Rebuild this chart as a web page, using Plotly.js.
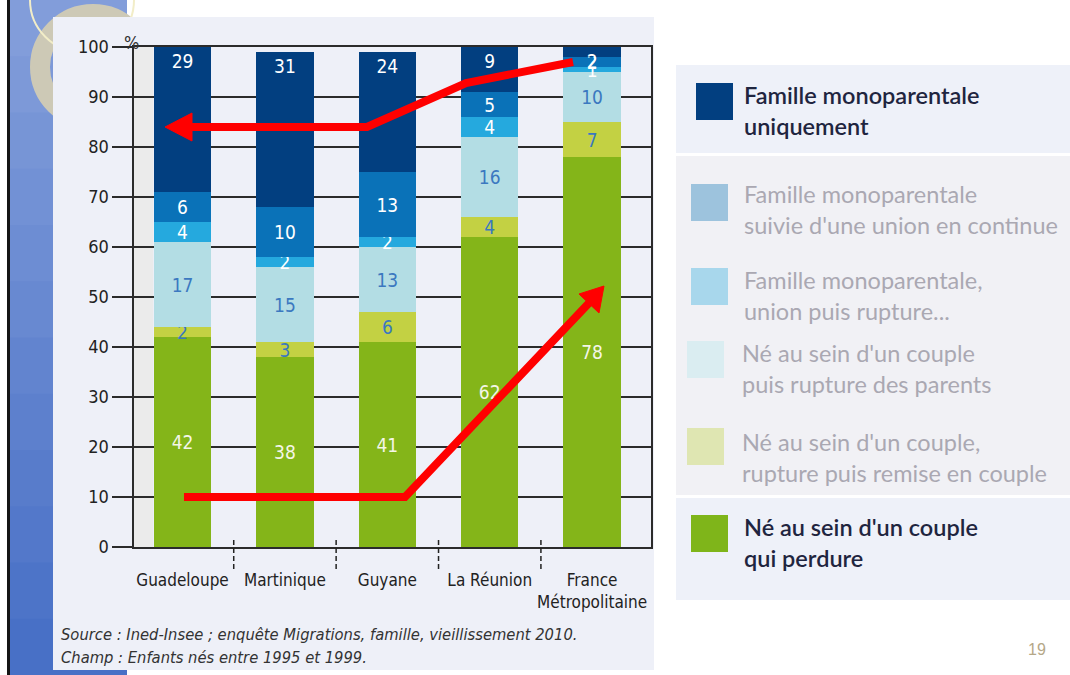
<!DOCTYPE html>
<html>
<head>
<meta charset="utf-8">
<script src="https://cdn.plot.ly/plotly-3.0.1.min.js"></script>
<style>
  html, body { margin: 0; padding: 0; background: #fff; }
  #chart { width: 1070px; height: 675px; }
</style>
</head>
<body>
<div id="chart"></div>
<script>
var regions = ["Guadeloupe", "Martinique", "Guyane", "La Réunion", "France Métropolitaine"];
var tickLabels = ["Guadeloupe", "Martinique", "Guyane", "La Réunion", "France<br>Métropolitaine"];

// parts, from the bottom of each bar to the top (%)
var couplePerdure = [42, 38, 41, 62, 78];
var coupleRemise = [2, 3, 6, 4, 7];
var coupleRupture = [17, 15, 13, 16, 10];
var monoUnionRupture = [4, 2, 2, 4, 1];
var monoUnionContinue = [6, 10, 13, 5, 2];
var monoUniquement = [29, 31, 24, 9, 2];

var yTicks = [0, 10, 20, 30, 40, 50, 60, 70, 80, 90, 100];

var legendLabels = [
  "Famille monoparentale<br>uniquement",
  "Famille monoparentale<br>suivie d'une union en continue",
  "Famille monoparentale,<br>union puis rupture...",
  "Né au sein d'un couple<br>puis rupture des parents",
  "Né au sein d'un couple,<br>rupture puis remise en couple",
  "Né au sein d'un couple<br>qui perdure"
];
var sourceLines = [
  "Source : Ined-Insee ; enquête Migrations, famille, vieillissement 2010.",
  "Champ : Enfants nés entre 1995 et 1999."
];
var pageNumber = "19";

var NARROW = '"Liberation Sans Narrow", "DejaVu Sans Condensed", "Roboto Condensed", sans-serif';
var LEG = 'Lato, "Open Sans", sans-serif';

function segment(values, color, textColor, anchor) {
  return {
    type: 'bar',
    x: regions,
    y: values,
    width: 0.56,
    marker: {color: color, line: {width: 0}},
    text: values.map(String),
    textposition: 'inside',
    insidetextanchor: anchor || 'middle',
    constraintext: 'none',
    textangle: 0,
    textfont: {family: NARROW, size: 19, color: textColor},
    hoverinfo: 'skip',
    showlegend: false
  };
}

var data = [
  segment(couplePerdure, '#84b519', '#f4f6e8'),
  segment(coupleRemise, '#c3d143', '#3b78c0'),
  segment(coupleRupture, '#b3dde4', '#3b78c0'),
  segment(monoUnionRupture, '#25a9de', '#ffffff'),
  segment(monoUnionContinue, '#0a72b8', '#ffffff'),
  segment(monoUniquement, '#023f80', '#ffffff', 'end')
];

// pixel -> paper helpers (plot area is 134..651 x 47..547)
function px(x) { return (x - 134) / 517; }
function py(y) { return (547 - y) / 500; }
function rect(x0, y0, x1, y1, color) {
  return {type: 'rect', xref: 'paper', yref: 'paper', layer: 'below',
    x0: px(x0), x1: px(x1), y0: py(y1), y1: py(y0),
    fillcolor: color, line: {width: 0}};
}
function path(pts, close) {
  return 'M' + pts.map(function (p) { return px(p[0]).toFixed(4) + ',' + py(p[1]).toFixed(4); }).join(' L') + (close ? ' Z' : '');
}

var shapes = [];
// slide background: blue strip with a soft vertical gradient
for (var i = 0; i < 12; i++) {
  var t = i / 11;
  var c = 'rgb(' + Math.round(130 - 58 * t) + ',' + Math.round(157 - 45 * t) + ',' + Math.round(218 - 20 * t) + ')';
  shapes.push(rect(10, i * 56.25, 127, (i + 1) * 56.25 + 1, c));
}
shapes.push(rect(7, 0, 10, 675, '#151515'));
// decorative rings
shapes.push({type: 'circle', xref: 'paper', yref: 'paper', layer: 'below',
  x0: px(40), x1: px(146), y0: py(120), y1: py(14), line: {color: '#cdc9b6', width: 20}});
shapes.push({type: 'circle', xref: 'paper', yref: 'paper', layer: 'below',
  x0: px(30), x1: px(134), y0: py(52), y1: py(-52), line: {color: '#f2edc8', width: 2}});
// chart panel
shapes.push(rect(53, 17, 654, 670, '#eef0f8'));
// legend panel sections
shapes.push(rect(676, 65, 1070, 153, '#eef1f9'));
shapes.push(rect(676, 156, 1070, 495, '#f1f1f5'));
shapes.push(rect(676, 498, 1070, 600, '#eef1f9'));
// legend swatches
var swatches = [
  [696, 83, '#023f80'], [691, 184, '#9dc3dd'], [691, 268, '#a8d7ec'],
  [687, 341, '#daedf1'], [687, 428, '#dfe6b2'], [691, 515, '#7fb51a']
];
swatches.forEach(function (s) {
  shapes.push(rect(s[0], s[1], s[0] + 37, s[1] + 37, s[2]));
});
// grey strip at the left of the plot
shapes.push({type: 'rect', xref: 'x', yref: 'y', layer: 'below',
  x0: -0.474, x1: -0.288, y0: 0, y1: 100, fillcolor: '#ebebeb', line: {width: 0}});
// dashed separators under the axis
[0.5, 1.5, 2.5, 3.5].forEach(function (x) {
  shapes.push({type: 'line', xref: 'x', yref: 'paper', x0: x, x1: x, y0: 0.014, y1: -0.05,
    line: {color: '#222', width: 1.5, dash: '5px,3px'}});
});
// red arrows
var RED = '#ff0000';
shapes.push({type: 'path', xref: 'paper', yref: 'paper',
  path: path([[573, 62], [466, 83], [367, 127], [188, 127]]),
  line: {color: RED, width: 8}});
shapes.push({type: 'path', xref: 'paper', yref: 'paper',
  path: path([[165, 127], [192, 113], [192, 141]], true),
  fillcolor: RED, line: {color: RED, width: 1}});
shapes.push({type: 'path', xref: 'paper', yref: 'paper',
  path: path([[184, 497], [405, 497], [589, 303]]),
  line: {color: RED, width: 8}});
shapes.push({type: 'path', xref: 'paper', yref: 'paper',
  path: path([[604, 286], [599, 313], [579, 294]], true),
  fillcolor: RED, line: {color: RED, width: 1}});

var annotations = [];
annotations.push({xref: 'paper', yref: 'paper', x: px(122), y: py(30), text: '%',
  showarrow: false, font: {family: NARROW, size: 18, color: '#333'}});
var legendY = [110, 210, 295, 368, 457, 542];
var legendX = [742, 742, 742, 740, 740, 742];
legendLabels.forEach(function (lab, k) {
  var strong = (k === 0 || k === legendLabels.length - 1);
  annotations.push({xref: 'paper', yref: 'paper', x: px(legendX[k]), y: py(legendY[k]),
    xanchor: 'left', yanchor: 'middle', align: 'left', showarrow: false, text: lab,
    font: {family: LEG, size: 23.5, color: strong ? '#1f2540' : '#aaa8b2', weight: strong ? 600 : 400}});
});
sourceLines.forEach(function (line, k) {
  annotations.push({xref: 'paper', yref: 'paper', x: px(59), y: py(634 + 23 * k),
    xanchor: 'left', yanchor: 'middle', showarrow: false, text: '<i>' + line + '</i>',
    font: {family: NARROW, size: 16.4, color: '#333'}});
});
annotations.push({xref: 'paper', yref: 'paper', x: px(1048), y: py(660), text: pageNumber,
  showarrow: false, font: {family: '"Liberation Sans", sans-serif', size: 16, color: '#b5a888'}});

var layout = {
  width: 1070,
  height: 675,
  margin: {l: 134, r: 419, t: 47, b: 128},
  paper_bgcolor: '#ffffff',
  plot_bgcolor: '#ffffff',
  barmode: 'stack',
  showlegend: false,
  hovermode: false,
  xaxis: {
    type: 'category',
    range: [-0.474, 4.575],
    tickvals: regions,
    ticktext: tickLabels,
    ticks: 'outside',
    ticklen: 17,
    tickcolor: 'rgba(0,0,0,0)',
    showgrid: false,
    showline: true,
    mirror: true,
    linecolor: '#2b2b2b',
    linewidth: 1.6,
    tickfont: {family: NARROW, size: 17, color: '#222'},
    fixedrange: true
  },
  yaxis: {
    range: [0, 100],
    tickvals: yTicks,
    ticks: 'outside',
    ticklen: 20,
    tickwidth: 1.6,
    tickcolor: '#2b2b2b',
    showgrid: true,
    gridcolor: '#2b2b2b',
    gridwidth: 1.6,
    zeroline: false,
    showline: true,
    mirror: true,
    linecolor: '#2b2b2b',
    linewidth: 1.6,
    tickfont: {family: NARROW, size: 18, color: '#222'},
    fixedrange: true
  },
  shapes: shapes,
  annotations: annotations
};

Plotly.newPlot('chart', data, layout, {displayModeBar: false, staticPlot: true});
</script>
</body>
</html>
